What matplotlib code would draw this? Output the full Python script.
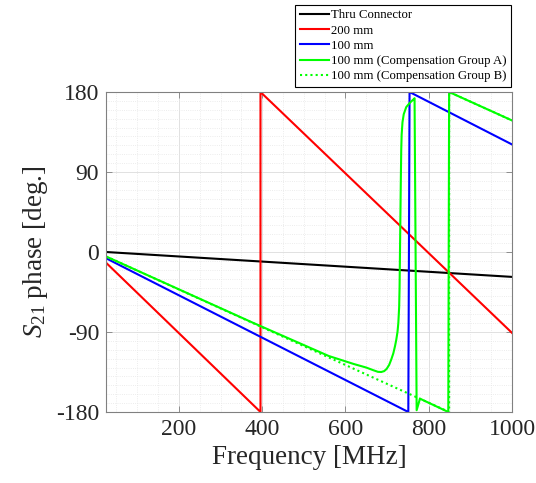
import numpy as np
import matplotlib
matplotlib.use('Agg')
import matplotlib.pyplot as plt
from matplotlib.ticker import MultipleLocator

# Times-like serif text, italic S in the y label
plt.rcParams['font.family'] = ['Liberation Serif', 'DejaVu Serif']
plt.rcParams['mathtext.fontset'] = 'custom'
plt.rcParams['mathtext.rm'] = 'Liberation Serif'
plt.rcParams['mathtext.it'] = 'Liberation Serif:italic'
plt.rcParams['axes.unicode_minus'] = False

# wrapped S21 phase, vertices in MHz / deg
thru_f = [25, 1000]
thru_ph = [0, -28]

l200_f = [25, 396, 396, 1000]
l200_ph = [-12, -180, 180, -91]

l100_f = [25, 751, 754, 1000]
l100_ph = [-7, -180, 180, 121]

grpA_f = [25, 375, 560, 620, 650, 667, 678, 686, 693, 699, 705, 710, 715, 719, 722, 725,
          727, 729, 730, 731, 732, 733, 734, 735, 737, 740, 746, 755, 764, 766,
          771, 779, 847, 849, 1000]
grpA_ph = [-5, -79, -117, -126, -130, -133, -134.8, -135, -134, -131.5, -127, -121, -114, -106, -99, -90,
           -80, -62, -40, 0, 40, 80, 115, 132, 146, 155, 163, 168, 172, 173,
           -178, -165, -180, 180, 148]

grpB_f = [25, 849, 849, 1000]
grpB_ph = [-5, -180, 180, 148]

names = ['Thru Connector', '200 mm', '100 mm',
         '100 mm (Compensation Group A)', '100 mm (Compensation Group B)']

fig = plt.figure(figsize=(5.36, 4.83), dpi=100)
ax = fig.add_axes([106 / 536, 71 / 483, 406 / 536, 320 / 483])

ax.plot(thru_f, thru_ph, color='k', lw=1.5, label=names[0])
ax.plot(l200_f, l200_ph, color='r', lw=1.5, label=names[1])
ax.plot(l100_f, l100_ph, color='b', lw=1.5, label=names[2])
ax.plot(grpA_f, grpA_ph, color='#00ff00', lw=1.5, label=names[3])
ax.plot(grpB_f, grpB_ph, color='#00ff00', lw=1.5, ls=(0, (1, 1.5)), label=names[4])

ax.set_xlim(25, 1000)
ax.set_ylim(-180, 180)
ax.set_xticks([200, 400, 600, 800, 1000])
ax.set_yticks([-180, -90, 0, 90, 180])
ax.xaxis.set_minor_locator(MultipleLocator(50))
ax.yaxis.set_minor_locator(MultipleLocator(10))

ax.grid(which='major', color='#dcdcdc', lw=0.6)
ax.grid(which='minor', color='#e6e6e6', lw=0.6, ls=':')
ax.set_axisbelow(True)

ax.tick_params(which='major', direction='in', top=True, right=True, length=4,
               width=0.6, color='#808080', labelsize=17, labelcolor='#262626', pad=5)
ax.tick_params(which='minor', length=0)
for s in ax.spines.values():
    s.set_color('#808080')
    s.set_linewidth(0.8)

ax.set_xlabel('Frequency [MHz]', fontsize=19.5, color='#262626')
ax.set_ylabel(r'$S_{21}$ phase [deg.]', fontsize=19.5, color='#262626')

leg = ax.legend(loc='upper right', bbox_to_anchor=(511 / 536, 478 / 483),
                bbox_transform=fig.transFigure, borderaxespad=0, fontsize=9.2,
                fancybox=False, edgecolor='k', framealpha=1, handlelength=2.3,
                handletextpad=0.15, labelspacing=0.25, borderpad=0.35)
leg.get_frame().set_linewidth(0.8)

fig.savefig('out.png', dpi=100)
